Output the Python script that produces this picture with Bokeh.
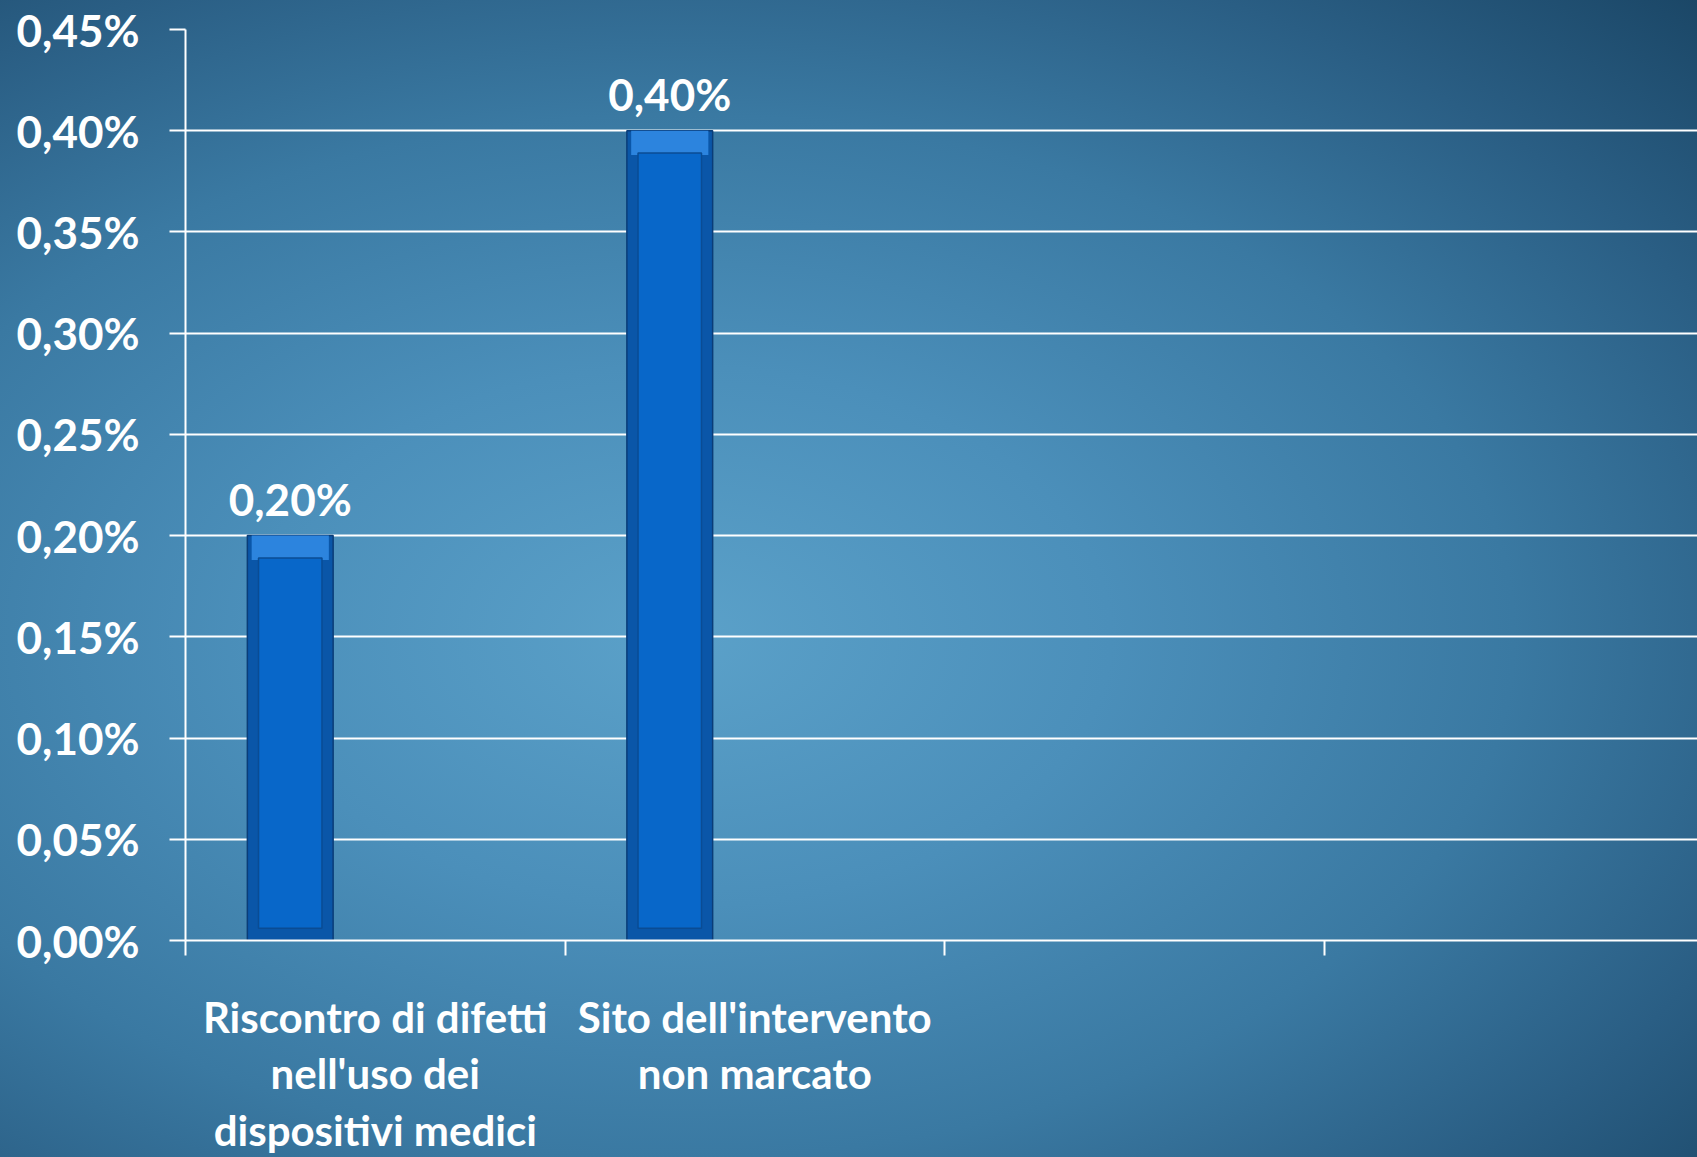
from bokeh.plotting import figure
from bokeh.models import (Range1d, FixedTicker, CustomJSTickFormatter, ColumnDataSource,
                          InlineStyleSheet)
from bokeh.core.properties import value
from bokeh.embed import file_html
from bokeh.resources import INLINE

# ---- data ----
categories = ["Riscontro di difetti\nnell'uso dei\ndispositivi medici",
              "Sito dell'intervento\nnon marcato",
              "", ""]
values = [0.20, 0.40]          # percent
y_ticks = [0.00, 0.05, 0.10, 0.15, 0.20, 0.25, 0.30, 0.35, 0.40, 0.45]

FONT = "Lato"
n_cat = len(categories)
bar_offset = -0.224
bar_w = 0.226

centers = [i + 0.5 for i in range(n_cat)]
bounds = [float(i) for i in range(n_cat + 1)]
xs = [centers[i] + bar_offset for i in range(len(values))]
labels = [f"{v:.2f}".replace(".", ",") + "%" for v in values]

src = ColumnDataSource(dict(
    x=xs, top=values, label=labels,
    inner_top=[v - 0.011 for v in values],
    strip_bottom=[v - 0.012 for v in values],
))

p = figure(width=1697, height=1157, output_backend="svg", toolbar_location=None,
           x_range=Range1d(0, 3.984), y_range=Range1d(0, 0.45),
           min_border_left=185, min_border_top=29, min_border_bottom=215,
           min_border_right=0)

p.border_fill_alpha = 0
p.background_fill_alpha = 0
p.outline_line_color = None
p.stylesheets = [InlineStyleSheet(css=""":host {
  background: radial-gradient(ellipse farthest-corner at 40% 55%,
     #5ba1c9 0%, #4b8fba 30%, #3a79a2 58%, #2a5e84 80%, #1b4767 100%);
}""")]

# bars with bevel look
p.vbar(x="x", top="top", bottom=0, width=bar_w, source=src,
       fill_color="#0a56a8", line_color="#0a3d78", line_width=1.5)
p.vbar(x="x", top="top", bottom="strip_bottom", width=bar_w * 0.9, source=src,
       fill_color="#2c84de", line_color=None)
p.vbar(x="x", top="inner_top", bottom=0.006, width=bar_w * 0.74, source=src,
       fill_color="#0867c9", line_color="#0a4c94", line_width=1.5)

p.text(x="x", y="top", text="label", source=src, y_offset=-11,
       text_font=value(FONT), text_font_style="bold", text_font_size="44px",
       text_color="white", text_align="center", text_baseline="bottom")

# y axis
p.yaxis.ticker = FixedTicker(ticks=y_ticks)
p.yaxis.formatter = CustomJSTickFormatter(
    code="return tick.toFixed(2).replace('.', ',') + '%';")
p.yaxis.axis_line_color = "white"
p.yaxis.axis_line_width = 2
p.yaxis.major_tick_line_color = "white"
p.yaxis.major_tick_line_width = 2
p.yaxis.major_tick_out = 16
p.yaxis.major_tick_in = 0
p.yaxis.minor_tick_line_color = None
p.yaxis.major_label_standoff = 30
p.yaxis.major_label_text_font = FONT
p.yaxis.major_label_text_font_style = "bold"
p.yaxis.major_label_text_font_size = "44px"
p.yaxis.major_label_text_color = "white"

# x axis
p.xaxis.ticker = FixedTicker(ticks=centers, minor_ticks=bounds)
p.xaxis.major_label_overrides = {c: lab for c, lab in zip(centers, categories)}
p.xaxis.axis_line_color = "white"
p.xaxis.axis_line_width = 2
p.xaxis.major_tick_line_color = None
p.xaxis.major_tick_out = 0
p.xaxis.minor_tick_line_color = "white"
p.xaxis.minor_tick_line_width = 2
p.xaxis.minor_tick_out = 15
p.xaxis.minor_tick_in = 0
p.xaxis.major_label_standoff = 36
p.xaxis.major_label_text_font = FONT
p.xaxis.major_label_text_font_style = "bold"
p.xaxis.major_label_text_font_size = "42px"
p.xaxis.major_label_text_color = "white"
p.xaxis.major_label_text_line_height = 1.13

p.xgrid.grid_line_color = None
p.ygrid.ticker = FixedTicker(ticks=y_ticks)
p.ygrid.grid_line_color = "white"
p.ygrid.grid_line_width = 2

open("out.html", "w").write(file_html(p, INLINE))
